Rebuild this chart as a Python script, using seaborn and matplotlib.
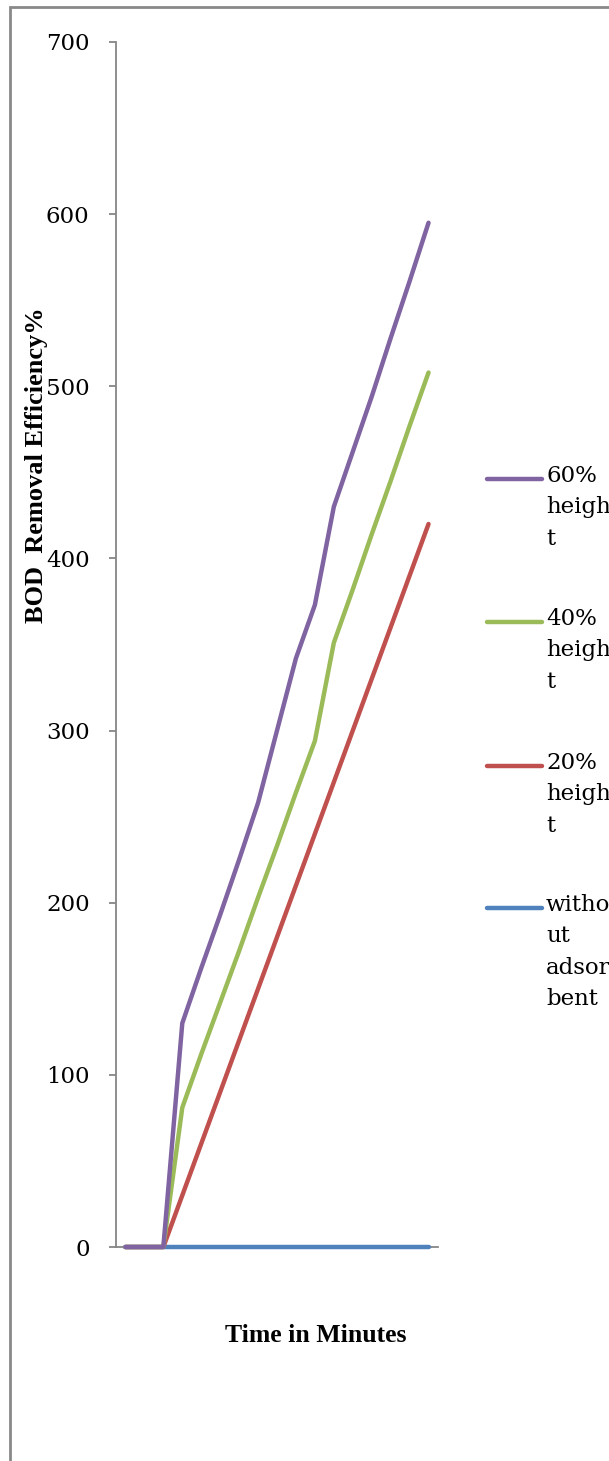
import matplotlib
matplotlib.use("Agg")
import matplotlib.pyplot as plt
from matplotlib.lines import Line2D
from matplotlib.patches import Rectangle
import pandas as pd
import seaborn as sns

# Sampling steps along the time axis (categories, unlabeled)
time_steps = [0, 1, 2, 3, 4, 5, 6, 7, 8, 9, 10, 11, 12, 13, 14, 15, 16]

# BOD removal efficiency per series
without_adsorbent = [0, 0, 0, 0, 0, 0, 0, 0, 0, 0, 0, 0, 0, 0, 0, 0, 0]
height_20 = [0, 0, 0, 30, 60, 90, 120, 150, 180, 210, 240, 270, 300, 330, 360, 390, 420]
height_40 = [0, 0, 0, 81, 112, 142, 172, 203, 233, 264, 294, 351, 382, 414, 445, 477, 508]
height_60 = [0, 0, 0, 130, 162, 193, 225, 258, 300, 342, 373, 430, 462, 494, 528, 561, 595]

series_names = ["without adsorbent", "20% height", "40% height", "60% height"]
legend_labels = ["witho\nut\nadsor\nbent", "20%\nheigh\nt", "40%\nheigh\nt", "60%\nheigh\nt"]
colors = ["#4F81BD", "#C0504D", "#9BBB59", "#8064A2"]
y_ticks = [0, 100, 200, 300, 400, 500, 600, 700]

frames = []
for name, vals in zip(series_names, [without_adsorbent, height_20, height_40, height_60]):
    frames.append(pd.DataFrame({"time": time_steps, "bod": vals, "series": name}))
df = pd.concat(frames, ignore_index=True)

sns.set_theme(style="white")
plt.rcParams["font.family"] = ["DejaVu Serif"]
plt.rcParams["text.color"] = "black"

W, H = 609, 1461
fig = plt.figure(figsize=(W / 100, H / 100), dpi=100)
ax = fig.add_axes([116 / W, 1 - 1247 / H, (438 - 116) / W, (1247 - 42) / H])

sns.lineplot(
    data=df, x="time", y="bod", hue="series", hue_order=series_names,
    palette=dict(zip(series_names, colors)), linewidth=3.2, legend=False,
    solid_capstyle="round", solid_joinstyle="round", zorder=3, clip_on=False, ax=ax,
)

axis_grey = "#868686"
ax.set_xlim(-0.5, 16.5)
ax.set_ylim(0, 700)
ax.set_yticks(y_ticks)
ax.set_xticks([])
ax.tick_params(axis="y", direction="out", length=5, width=1.3, color=axis_grey,
               labelsize=16.5, labelcolor="black", pad=14, left=True)
for side in ["top", "right"]:
    ax.spines[side].set_visible(False)
for side in ["left", "bottom"]:
    ax.spines[side].set_color(axis_grey)
    ax.spines[side].set_linewidth(1.3)
    ax.spines[side].set_zorder(1)
ax.set_xlabel("")
ax.set_ylabel("")
ax.grid(False)

# Axis titles
fig.text(316 / W, 1 - 1335 / H, "Time in Minutes", ha="center", va="center",
         fontsize=18.5, fontweight="bold", color="black", family=["Liberation Serif"])
fig.text(37 / W, 1 - 465 / H, "BOD  Removal Efficiency%", ha="center", va="center",
         rotation=90, fontsize=19, fontweight="bold", color="black",
         family=["Liberation Serif"])

# Legend entries beside the plot
legend_y = [908, 766, 622, 479]
for lab, col, yy in zip(legend_labels, colors, legend_y):
    fig.add_artist(Line2D([487 / W, 542 / W], [1 - yy / H] * 2, color=col,
                          linewidth=3.2, solid_capstyle="round"))
    fig.text(546 / W, 1 - (yy - 14) / H, lab, ha="left", va="top",
             fontsize=16.5, linespacing=1.55, color="black")

# Chart frame
fig.add_artist(Rectangle((9.5 / W, -0.1), 1.2, 1 - 7 / H + 0.1, transform=fig.transFigure,
                         fill=False, edgecolor="#898989", linewidth=2))

fig.savefig("out.png", dpi=100, facecolor="white")
